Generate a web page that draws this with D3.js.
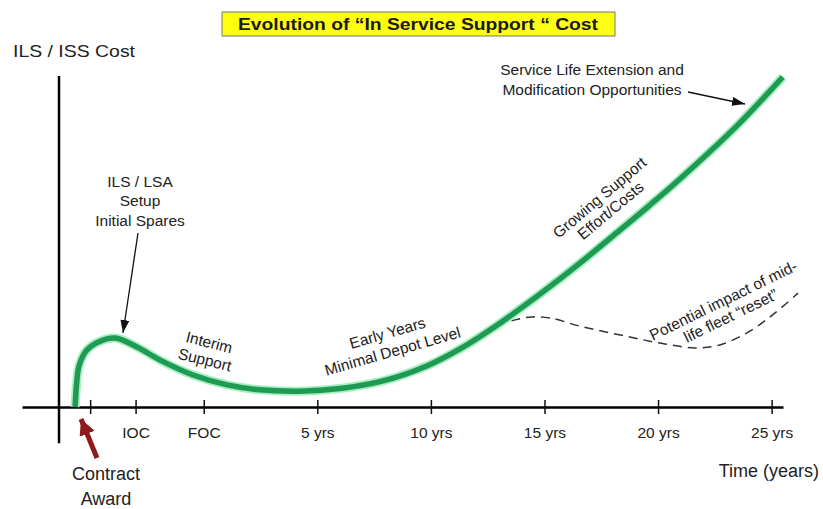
<!DOCTYPE html>
<html>
<head>
<meta charset="utf-8">
<script src="https://cdn.jsdelivr.net/npm/d3@7"></script>
<style>
  html, body { margin: 0; padding: 0; background: #fff; }
  svg { display: block; font-family: "Liberation Sans", Arial, sans-serif; }
</style>
</head>
<body>
<svg id="chart" width="823" height="509"></svg>
<script>
// Timeline position (years, FOC = 0) and relative support cost (0-100)
const supportYears = [-5.66, -5.6, -5.49, -5.18, -4.61, -3.9, -2.94, -1.92, -0.47, 1.03, 2.48, 4.24, 6.0, 7.89, 9.87, 11.28, 12.91, 14.8, 16.56, 18.32, 19.64, 20.96, 23.47, 25.49];
const supportCost  = [0, 6.7, 12.4, 17.0, 19.8, 20.9, 18.2, 14.2, 9.7, 6.7, 5.2, 4.8, 5.6, 7.9, 12.6, 17.6, 24.8, 34.2, 43.6, 53.6, 61.2, 69.1, 85.2, 100];

// Alternative path after a mid-life fleet "reset"
const resetYears = [12.91, 13.7, 14.45, 15.24, 16.56, 18.76, 20.3, 21.62, 22.72, 24.04, 25.15, 26.16];
const resetCost  = [24.8, 26.4, 27.3, 27.0, 24.5, 21.2, 19.1, 17.9, 18.8, 23.0, 28.5, 34.5];

// Time axis milestones
const tickValues = [-5, -3, 0, 5, 10, 15, 20, 25];
const tickLabels = ["", "IOC", "FOC", "5 yrs", "10 yrs", "15 yrs", "20 yrs", "25 yrs"];

const titleText = "Evolution of \u201CIn Service Support \u201C Cost";
const yTitle = "ILS / ISS Cost";
const xTitle = "Time (years)";

const svg = d3.select("#chart");
const x = d3.scaleLinear().domain([-8, 25.5]).range([22, 783]);
const y = d3.scaleLinear().domain([0, 100]).range([407, 77]);

const defs = svg.append("defs");
function arrowMarker(id, color, w, h) {
  defs.append("marker")
    .attr("id", id)
    .attr("viewBox", `0 0 ${w} ${h}`)
    .attr("refX", w).attr("refY", h / 2)
    .attr("markerWidth", w).attr("markerHeight", h)
    .attr("markerUnits", "userSpaceOnUse")
    .attr("orient", "auto")
    .append("path")
    .attr("d", `M0,0 L${w},${h / 2} L0,${h} Z`)
    .attr("fill", color);
}
arrowMarker("headBlack", "#111", 13, 9);
arrowMarker("headRed", "#8e1b1b", 16, 16);

// Title banner
const titleG = svg.append("g");
titleG.append("rect")
  .attr("x", 222).attr("y", 12).attr("width", 393).attr("height", 24)
  .attr("fill", "#ffff10").attr("stroke", "#777").attr("stroke-width", 1);
titleG.append("text")
  .attr("x", 418).attr("y", 30)
  .attr("text-anchor", "middle")
  .attr("font-size", 17).attr("font-weight", "bold")
  .attr("fill", "#1a1a1a")
  .attr("textLength", 360).attr("lengthAdjust", "spacingAndGlyphs")
  .text(titleText);

// Axes
const axisX = 59;
svg.append("line")
  .attr("x1", axisX).attr("x2", axisX)
  .attr("y1", y(100) - 1).attr("y2", y(-11))
  .attr("stroke", "#000").attr("stroke-width", 2.5);

const xAxis = d3.axisBottom(x)
  .tickValues(tickValues)
  .tickFormat((d, i) => tickLabels[i])
  .tickSizeOuter(0)
  .tickSizeInner(7)
  .tickPadding(0);

const gx = svg.append("g")
  .attr("transform", `translate(0,${y(0)})`)
  .call(xAxis);
gx.select(".domain").attr("stroke", "#000").attr("stroke-width", 2.5);
gx.selectAll(".tick line").attr("y1", -7).attr("y2", 7)
  .attr("stroke", "#111").attr("stroke-width", 1.5);
gx.selectAll(".tick text")
  .attr("y", 31).attr("dy", null)
  .attr("font-size", 15.5).attr("fill", "#222")
  .attr("font-family", "Liberation Sans, Arial, sans-serif");

// Axis titles
svg.append("text")
  .attr("x", 13).attr("y", 57)
  .attr("font-size", 17).attr("fill", "#222")
  .attr("textLength", 122).attr("lengthAdjust", "spacingAndGlyphs")
  .text(yTitle);
svg.append("text")
  .attr("x", 819).attr("y", 477)
  .attr("text-anchor", "end")
  .attr("font-size", 18).attr("fill", "#222")
  .text(xTitle);

// Curves
const line = d3.line()
  .x(d => x(d[0])).y(d => y(d[1]))
  .curve(d3.curveCatmullRom.alpha(0.5));

const supportData = supportYears.map((t, i) => [t, supportCost[i]]);
const resetData = resetYears.map((t, i) => [t, resetCost[i]]);

svg.append("path")
  .datum(resetData)
  .attr("d", line)
  .attr("fill", "none")
  .attr("stroke", "#333")
  .attr("stroke-width", 1.5)
  .attr("stroke-dasharray", "9,6");

svg.append("path")
  .datum(supportData)
  .attr("d", line)
  .attr("fill", "none")
  .attr("stroke", "#a6efbf")
  .attr("stroke-width", 9);
svg.append("path")
  .datum(supportData)
  .attr("d", line)
  .attr("fill", "none")
  .attr("stroke", "#1e9a55")
  .attr("stroke-width", 5.5);

// Annotations
const annoSize = 15.5;
const annoFill = "#222";

function block(lines, cx, cy, angle, gap) {
  const g = svg.append("g")
    .attr("transform", `translate(${cx},${cy}) rotate(${angle})`);
  const n = lines.length;
  lines.forEach((s, i) => {
    g.append("text")
      .attr("x", 0)
      .attr("y", (i - (n - 1) / 2) * gap + annoSize * 0.35)
      .attr("text-anchor", "middle")
      .attr("font-size", annoSize)
      .attr("fill", annoFill)
      .text(s);
  });
  return g;
}

block(["ILS / LSA", "Setup", "Initial Spares"], 140, 201, 0, 19.5);
block(["Interim", "Support"], 207, 351, 14, 18);
block(["Early Years", "Minimal Depot Level"], 390, 342, -16, 19);
block(["Growing Support", "Effort/Costs"], 605, 204, -40, 17);
block(["Potential impact of mid-", "life fleet \u201Creset\u201D"], 727, 308, -26, 17);

const sle = svg.append("g");
["Service Life Extension and", "Modification Opportunities"].forEach((s, i) => {
  sle.append("text")
    .attr("x", 592).attr("y", 75 + i * 20)
    .attr("text-anchor", "middle")
    .attr("font-size", annoSize)
    .attr("fill", annoFill)
    .text(s);
});

// Pointer arrows
svg.append("line")
  .attr("x1", 138).attr("y1", 233).attr("x2", 123).attr("y2", 333)
  .attr("stroke", "#111").attr("stroke-width", 1.3)
  .attr("marker-end", "url(#headBlack)");
svg.append("line")
  .attr("x1", 688).attr("y1", 92).attr("x2", 745).attr("y2", 104)
  .attr("stroke", "#111").attr("stroke-width", 1.3)
  .attr("marker-end", "url(#headBlack)");

// Contract award marker
svg.append("line")
  .attr("x1", 97).attr("y1", 458).attr("x2", 81).attr("y2", 419)
  .attr("stroke", "#8e1b1b").attr("stroke-width", 5)
  .attr("marker-end", "url(#headRed)");
["Contract", "Award"].forEach((s, i) => {
  svg.append("text")
    .attr("x", 106).attr("y", 480 + i * 25)
    .attr("text-anchor", "middle")
    .attr("font-size", 18).attr("fill", "#222")
    .text(s);
});
</script>
</body>
</html>
